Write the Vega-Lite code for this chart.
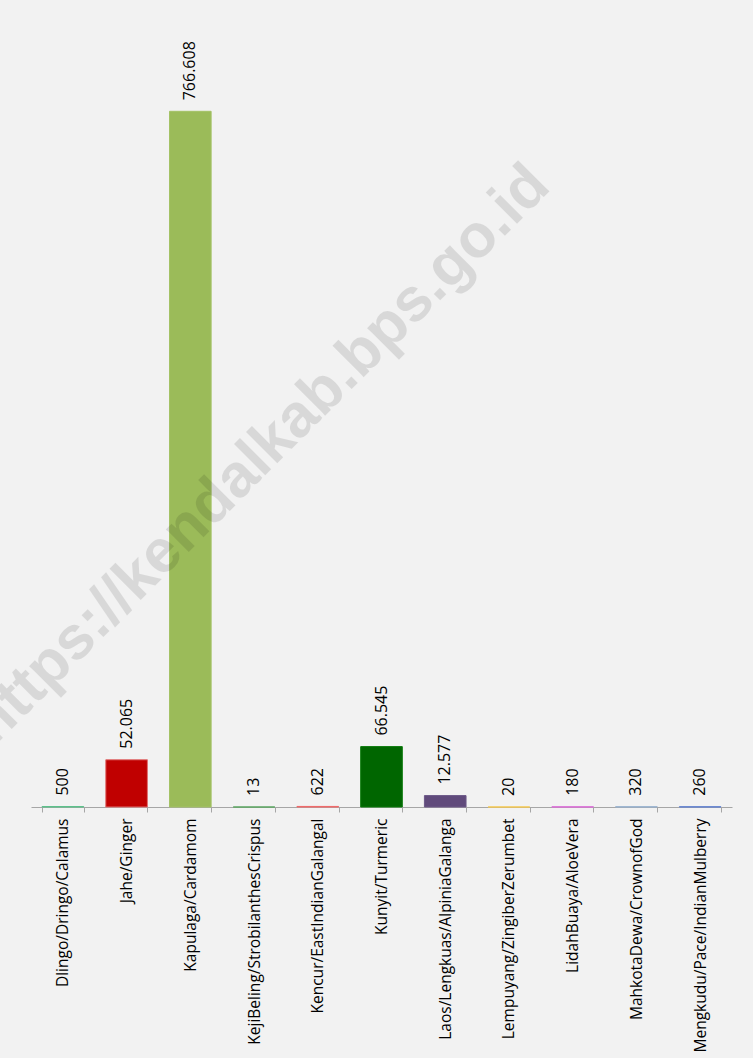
{
  "$schema": "https://vega.github.io/schema/vega-lite/v6.json",
  "width": 701,
  "height": 726,
  "autosize": {"type": "none"},
  "padding": {"left": 31, "top": 81, "right": 21, "bottom": 251},
  "background": "#f2f2f2",
  "config": {
    "view": {"stroke": null},
    "locale": {"number": {"decimal": ",", "thousands": ".", "grouping": [3], "currency": ["Rp", ""]}}
  },
  "datasets": {
    "main": [
      {"cat": "Dlingo/Dringo/Calamus", "value": 500},
      {"cat": "Jahe/Ginger", "value": 52065},
      {"cat": "Kapulaga/Cardamom", "value": 766608},
      {"cat": "KejiBeling/StrobilanthesCrispus", "value": 13},
      {"cat": "Kencur/EastIndianGalangal", "value": 622},
      {"cat": "Kunyit/Turmeric", "value": 66545},
      {"cat": "Laos/Lengkuas/AlpiniaGalanga", "value": 12577},
      {"cat": "Lempuyang/ZingiberZerumbet", "value": 20},
      {"cat": "LidahBuaya/AloeVera", "value": 180},
      {"cat": "MahkotaDewa/CrownofGod", "value": 320},
      {"cat": "Mengkudu/Pace/IndianMulberry", "value": 260}
    ],
    "wm": [
      {"cat": "KejiBeling/StrobilanthesCrispus", "value": 353000, "text": "https://kendalkab.bps.go.id"}
    ]
  },
  "encoding": {
    "x": {
      "field": "cat",
      "type": "nominal",
      "sort": null,
      "scale": {
        "domain": ["Dlingo/Dringo/Calamus", "Jahe/Ginger", "Kapulaga/Cardamom", "KejiBeling/StrobilanthesCrispus", "Kencur/EastIndianGalangal", "Kunyit/Turmeric", "Laos/Lengkuas/AlpiniaGalanga", "Lempuyang/ZingiberZerumbet", "LidahBuaya/AloeVera", "MahkotaDewa/CrownofGod", "Mengkudu/Pace/IndianMulberry"],
        "paddingInner": 0.347,
        "paddingOuter": 0.1735
      },
      "axis": {
        "title": null,
        "labelAngle": -90,
        "labelAlign": "right",
        "labelBaseline": "middle",
        "labelFont": "Open Sans",
        "labelFontSize": 15.5,
        "labelColor": "#000000",
        "labelPadding": 6,
        "labelLimit": 400,
        "tickSize": 5,
        "tickColor": "#a6a6a6",
        "domainColor": "#a6a6a6",
        "tickBand": "extent",
        "grid": false
      }
    },
    "y": {
      "field": "value",
      "type": "quantitative",
      "scale": {"domain": [0, 800000], "nice": false, "zero": true},
      "axis": null
    }
  },
  "layer": [
    {
      "data": {"name": "main"},
      "mark": {"type": "bar", "strokeWidth": 1},
      "encoding": {
        "fill": {
          "field": "cat",
          "type": "nominal",
          "legend": null,
          "scale": {
            "domain": ["Dlingo/Dringo/Calamus", "Jahe/Ginger", "Kapulaga/Cardamom", "KejiBeling/StrobilanthesCrispus", "Kencur/EastIndianGalangal", "Kunyit/Turmeric", "Laos/Lengkuas/AlpiniaGalanga", "Lempuyang/ZingiberZerumbet", "LidahBuaya/AloeVera", "MahkotaDewa/CrownofGod", "Mengkudu/Pace/IndianMulberry"],
            "range": ["#4fb77e", "#c00000", "#9bbb59", "#4f9a55", "#f05858", "#006600", "#604a7b", "#f2c244", "#d45cd0", "#8ea8c8", "#5577c8"]
          }
        },
        "stroke": {
          "field": "cat",
          "type": "nominal",
          "legend": null,
          "scale": {
            "domain": ["Dlingo/Dringo/Calamus", "Jahe/Ginger", "Kapulaga/Cardamom", "KejiBeling/StrobilanthesCrispus", "Kencur/EastIndianGalangal", "Kunyit/Turmeric", "Laos/Lengkuas/AlpiniaGalanga", "Lempuyang/ZingiberZerumbet", "LidahBuaya/AloeVera", "MahkotaDewa/CrownofGod", "Mengkudu/Pace/IndianMulberry"],
            "range": ["#5cc08a", "#e07070", "#a4c266", "#5aa560", "#f06868", "#0a7a0a", "#6c5888", "#f5c850", "#dc6cd8", "#98b2d0", "#6080d0"]
          }
        }
      }
    },
    {
      "data": {"name": "main"},
      "mark": {
        "type": "text",
        "angle": 270,
        "align": "left",
        "baseline": "middle",
        "dx": 11,
        "font": "Open Sans",
        "fontSize": 16,
        "color": "#000000"
      },
      "encoding": {
        "text": {"field": "value", "type": "quantitative", "format": ",d"}
      }
    },
    {
      "data": {"name": "wm"},
      "mark": {
        "type": "text",
        "angle": 315,
        "align": "center",
        "baseline": "alphabetic",
        "dx": 27,
        "font": "Liberation Sans",
        "fontWeight": "bold",
        "fontSize": 61,
        "color": "#000000",
        "opacity": 0.1
      },
      "encoding": {
        "text": {"field": "text", "type": "nominal"}
      }
    }
  ]
}
